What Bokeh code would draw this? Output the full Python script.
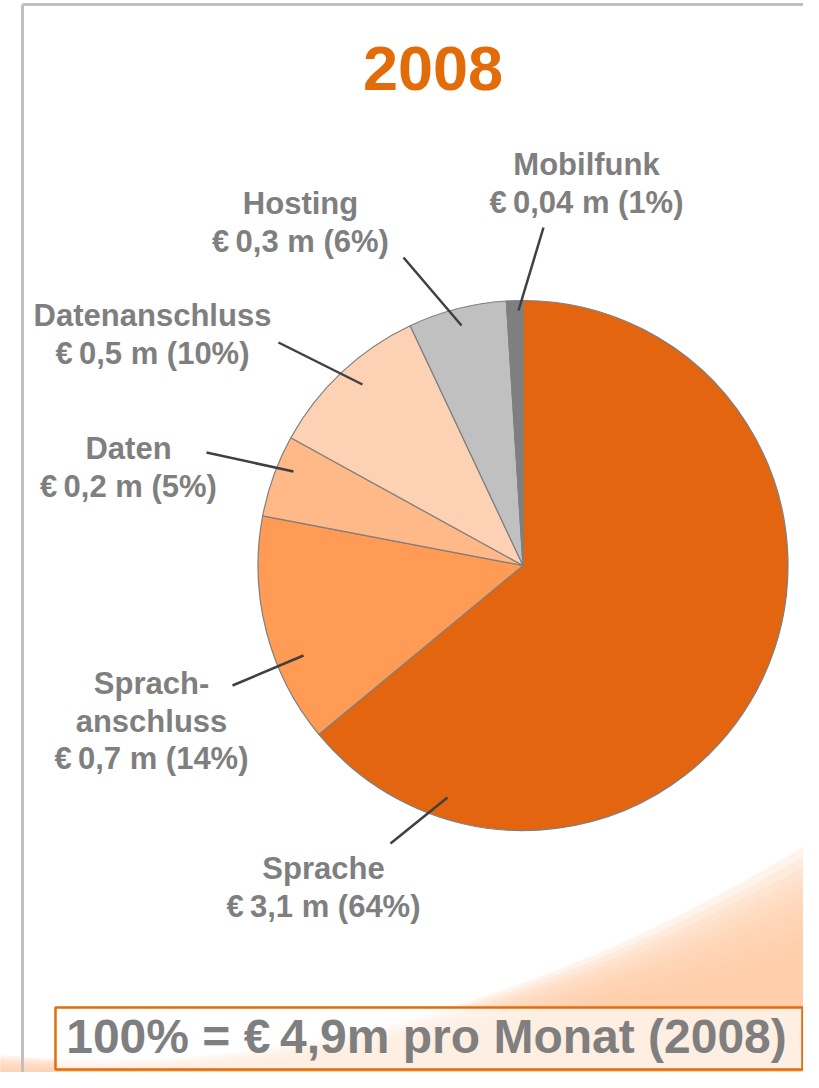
import numpy as np
from bokeh.plotting import figure
from bokeh.models import Range1d
from bokeh.core.properties import value
from bokeh.embed import file_html
from bokeh.resources import INLINE

# ---------------- data ----------------
categories = ["Sprache", "Sprach-\nanschluss", "Daten", "Datenanschluss", "Hosting", "Mobilfunk"]
values_m = [3.1, 0.7, 0.2, 0.5, 0.3, 0.04]          # € million per month
shares_pct = [64, 14, 5, 10, 6, 1]                   # % of total
total_m = 4.9
year = "2008"
colors = ["#E3650F", "#FF9B55", "#FFB888", "#FDD2B4", "#C0C0C0", "#7F7F7F"]

# ---------------- layout (reference pixel coordinates) ----------------
W, H = 803, 1072
def Y(py):  # pixel y (from top) -> data y (y up)
    return H - py

FONT = value("Liberation Sans")
GREY = "#7F7F7F"
ORANGE = "#E36C0A"
EURO = "€\u2009"

def base(py, fs):  # alphabetic baseline correction for the renderer
    return Y(py - 0.387 * fs)

p = figure(width=W, height=H, output_backend="svg", toolbar_location=None,
           x_range=Range1d(0, W), y_range=Range1d(0, H),
           min_border=0, outline_line_color=None, background_fill_color="white")
p.axis.visible = False
p.grid.visible = False

# background swoosh (decoration)
xs = np.linspace(-10, 830, 120)
c_start = np.polyval(np.polyfit([0, 400, 600, 819], [1055, 1018, 955, 835], 2), xs)
c_full = np.polyval(np.polyfit([0, 400, 600, 819], [1078, 1050, 1008, 955], 2), xs)
N = 12
for k in range(N):
    c = c_start + (c_full - c_start) * k / (N - 1)
    px = list(xs) + [830, -10]
    py = [Y(v) for v in c] + [Y(1100), Y(1100)]
    p.patch(px, py, fill_color="#FDCDA8", fill_alpha=0.22, line_color=None)

# frame lines
p.line([22, 22], [Y(4), Y(1100)], line_color="#C0C0C0", line_width=3)
p.line([22, 830], [Y(4), Y(4)], line_color="#C0C0C0", line_width=3)

# pie
cx, cy, R = 522.5, Y(565), 265
frac = np.array(shares_pct, dtype=float) / sum(shares_pct)
cum = np.concatenate([[0], np.cumsum(frac)])
start_ang = np.pi / 2 - 2 * np.pi * cum[:-1]
end_ang = np.pi / 2 - 2 * np.pi * cum[1:]
p.wedge(x=[cx] * len(frac), y=[cy] * len(frac), radius=R,
        start_angle=start_ang, end_angle=end_ang, direction="clock",
        fill_color=colors, line_color=GREY, line_width=1.2)

# labels: (center x, first baseline y) and leader lines (outer -> inner)
label_pos = [(323, 880), (151, 695), (128, 460), (152, 327), (300, 215), (586, 176)]
leaders = [((390, 843), (447, 797)), ((232, 685), (303, 655)), ((206, 452), (293, 471)),
           ((278, 342), (362, 384)), ((403, 257), (461, 325)), ((543, 227), (518, 310))]
LS = 37.5
FS = 31

p.segment(x0=[a[0] for a, b in leaders], y0=[Y(a[1]) for a, b in leaders],
          x1=[b[0] for a, b in leaders], y1=[Y(b[1]) for a, b in leaders],
          line_color="#404040", line_width=2.5)

tx, ty, tt = [], [], []
for cat, v, pc, (lx, ly) in zip(categories, values_m, shares_pct, label_pos):
    lines = cat.split("\n") + [EURO + str(v).replace(".", ",") + " m (" + str(pc) + "%)"]
    for i, ln in enumerate(lines):
        tx.append(lx)
        ty.append(base(ly + i * LS, FS))
        tt.append(ln)
p.text(x=tx, y=ty, text=tt, text_align="center", text_baseline="alphabetic",
       text_font=FONT, text_font_style="bold", text_font_size=f"{FS}px", text_color=GREY)

# title
p.text(x=[432.5], y=[base(92, 63)], text=[year], text_align="center", text_baseline="alphabetic",
       text_font=FONT, text_font_style="bold", text_font_size="63px", text_color=ORANGE)

# bottom box
p.quad(left=[55], right=[802], top=[Y(1007)], bottom=[Y(1069)],
       fill_color="white", fill_alpha=0.65, line_color=ORANGE, line_width=2.5)
total_txt = "100% = " + EURO + str(total_m).replace(".", ",") + "m pro Monat (" + year + ")"
p.text(x=[426], y=[base(1055, 48)], text=[total_txt], text_align="center", text_baseline="alphabetic",
       text_font=FONT, text_font_style="bold", text_font_size="48px", text_color=GREY)

open("out.html", "w").write(file_html(p, INLINE))
